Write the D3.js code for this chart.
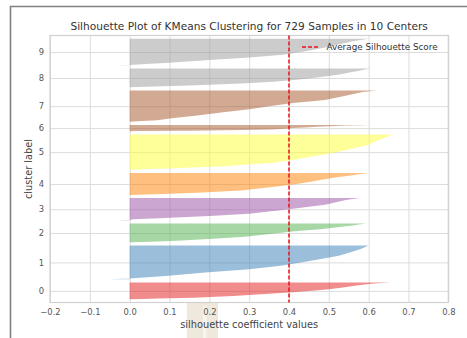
<!DOCTYPE html>
<html>
<head>
<meta charset="utf-8">
<script src="https://cdn.jsdelivr.net/npm/d3@7"></script>
<style>
  body { margin: 0; background: #fff; }
  svg { display: block; font-family: "DejaVu Sans", sans-serif; }
</style>
</head>
<body>
<svg id="chart" width="467" height="338"></svg>
<script>
// cluster ids and number of samples in each (729 total)
const clusters = [0, 1, 2, 3, 4, 5, 6, 7, 8, 9];
const clusterSizes = [53, 106, 59, 70, 69, 111, 20, 98, 59, 84];
// rank position inside a cluster (0 = lowest score, 1 = highest) at which values were read
const rankSteps = [0, 0.02, 0.05, 0.1, 0.2, 0.3, 0.4, 0.5, 0.6, 0.7, 0.8, 0.9, 0.95, 1];
// sorted silhouette coefficients read at those ranks
const silhouette0 = [0.0, 0.03, 0.07, 0.16, 0.26, 0.33, 0.40, 0.45, 0.50, 0.535, 0.565, 0.595, 0.62, 0.655];
const silhouette1 = [-0.05, 0.0, 0.035, 0.09, 0.19, 0.30, 0.38, 0.43, 0.48, 0.525, 0.555, 0.58, 0.59, 0.60];
const silhouette2 = [0.0, 0.03, 0.07, 0.13, 0.22, 0.29, 0.335, 0.375, 0.42, 0.48, 0.52, 0.56, 0.575, 0.595];
const silhouette3 = [-0.028, 0.0, 0.01, 0.075, 0.20, 0.30, 0.35, 0.40, 0.445, 0.49, 0.515, 0.54, 0.555, 0.578];
const silhouette4 = [0.0, 0.04, 0.10, 0.17, 0.28, 0.33, 0.375, 0.42, 0.455, 0.485, 0.52, 0.56, 0.58, 0.60];
const silhouette5 = [0.0, 0.05, 0.13, 0.24, 0.36, 0.42, 0.47, 0.52, 0.56, 0.60, 0.615, 0.64, 0.65, 0.662];
const silhouette6 = [0.0, 0.0, 0.02, 0.15, 0.28, 0.35, 0.39, 0.41, 0.44, 0.47, 0.50, 0.54, 0.58, 0.607];
const silhouette7 = [0.0, 0.03, 0.07, 0.10, 0.17, 0.23, 0.30, 0.35, 0.41, 0.49, 0.53, 0.565, 0.585, 0.62];
const silhouette8 = [0.0, 0.02, 0.06, 0.15, 0.28, 0.36, 0.42, 0.46, 0.50, 0.53, 0.555, 0.58, 0.59, 0.605];
const silhouette9 = [-0.032, 0.0, 0.04, 0.10, 0.20, 0.30, 0.385, 0.43, 0.465, 0.50, 0.53, 0.56, 0.58, 0.60];
const silhouetteValues = [silhouette0, silhouette1, silhouette2, silhouette3, silhouette4,
                          silhouette5, silhouette6, silhouette7, silhouette8, silhouette9];
const avgScore = 0.4;
const xTicks = [-0.2, -0.1, 0.0, 0.1, 0.2, 0.3, 0.4, 0.5, 0.6, 0.7, 0.8];
const clusterColors = ['#e41a1c', '#377eb8', '#4daf4a', '#984ea3', '#ff7f00',
                       '#ffff33', '#a65628', '#a65628', '#999999', '#999999'];
const titleText = 'Silhouette Plot of KMeans Clustering for 729 Samples in 10 Centers';
const gap = 10;

const plotLeft = 50, plotRight = 448.3, plotTop = 35.5, plotBottom = 302.5;
const svg = d3.select('#chart');

// frame of the figure (top and left edge only)
svg.append('path')
    .attr('d', 'M10.5,338 L10.5,6.5 L467,6.5')
    .attr('fill', 'none')
    .attr('stroke', '#808080')
    .attr('stroke-width', 1.6);

// light patch under the x label
svg.append('rect').attr('x', 187).attr('y', 302.5).attr('width', 31).attr('height', 36).attr('fill', '#efe8dc');
svg.append('rect').attr('x', 203).attr('y', 306).attr('width', 3.5).attr('height', 32).attr('fill', '#f8f5f0');

// y layout like yellowbrick: gap, cluster, gap, cluster ...
var yLower = gap;
var bands = clusters.map(function(c, i){
    var b = {id: c, lower: yLower, size: clusterSizes[i], values: silhouetteValues[i], color: clusterColors[i]};
    yLower += clusterSizes[i] + gap;
    return b;
});
const yMax = yLower;

var x = d3.scaleLinear().domain([-0.2, 0.8]).range([plotLeft, plotRight]);
var y = d3.scaleLinear().domain([0, yMax]).range([plotBottom, plotTop]);

// x axis + vertical grid
var xAxis = d3.axisBottom(x)
    .tickValues(xTicks)
    .tickFormat(d3.format('.1f'))
    .tickSize(-(plotBottom - plotTop))
    .tickPadding(6.5);
var gx = svg.append('g')
    .attr('transform', 'translate(0,' + plotBottom + ')')
    .call(xAxis);

// y axis + horizontal grid at band centres
var yAxis = d3.axisLeft(y)
    .tickValues(bands.map(function(b){ return b.lower + b.size / 2; }))
    .tickFormat(function(d, i){ return bands[i].id; })
    .tickSize(-(plotRight - plotLeft))
    .tickPadding(6);
var gy = svg.append('g')
    .attr('transform', 'translate(' + plotLeft + ',0)')
    .call(yAxis);

[gx, gy].forEach(function(g){
    g.select('.domain').remove();
    g.selectAll('.tick line').attr('stroke', '#dcdcdc').attr('stroke-width', 1);
    g.selectAll('.tick text')
        .attr('fill', '#555')
        .style('font-size', '8.4px')
        .style('font-family', '"DejaVu Sans", sans-serif');
});

// silhouette bands
var area = d3.area()
    .x0(x(0))
    .x1(function(d){ return x(d[1]); })
    .y(function(d){ return y(d[0]); });

svg.append('g').selectAll('path')
    .data(bands)
    .enter()
    .append('path')
    .attr('d', function(b){
        return area(rankSteps.map(function(r, k){ return [b.lower + r * b.size, b.values[k]]; }));
    })
    .attr('fill', function(b){ return b.color; })
    .attr('fill-opacity', 0.5);

// plot border
svg.append('rect')
    .attr('x', plotLeft).attr('y', plotTop)
    .attr('width', plotRight - plotLeft).attr('height', plotBottom - plotTop)
    .attr('fill', 'none')
    .attr('stroke', '#d0d0d0')
    .attr('stroke-width', 1.2);

// average score
svg.append('line')
    .attr('x1', x(avgScore)).attr('x2', x(avgScore))
    .attr('y1', plotTop).attr('y2', plotBottom)
    .attr('stroke', '#e8141a')
    .attr('stroke-width', 1.5)
    .attr('stroke-dasharray', '4,2');

// legend
svg.append('line')
    .attr('x1', 302).attr('x2', 319.5)
    .attr('y1', 47).attr('y2', 47)
    .attr('stroke', '#e8141a')
    .attr('stroke-width', 1.5)
    .attr('stroke-dasharray', '4,2');
svg.append('text')
    .attr('x', 326.5).attr('y', 47)
    .attr('dy', '0.35em')
    .attr('fill', '#333')
    .style('font-size', '8.8px')
    .text('Average Silhouette Score');

// title and axis labels
svg.append('text')
    .attr('x', (plotLeft + plotRight) / 2).attr('y', 30)
    .attr('text-anchor', 'middle')
    .attr('fill', '#333')
    .style('font-size', '10.6px')
    .text(titleText);
svg.append('text')
    .attr('x', (plotLeft + plotRight) / 2).attr('y', 328)
    .attr('text-anchor', 'middle')
    .attr('fill', '#444')
    .style('font-size', '9.8px')
    .text('silhouette coefficient values');
svg.append('text')
    .attr('transform', 'translate(32,' + (plotTop + plotBottom) / 2 + ') rotate(-90)')
    .attr('text-anchor', 'middle')
    .attr('fill', '#444')
    .style('font-size', '9.8px')
    .text('cluster label');
</script>
</body>
</html>
